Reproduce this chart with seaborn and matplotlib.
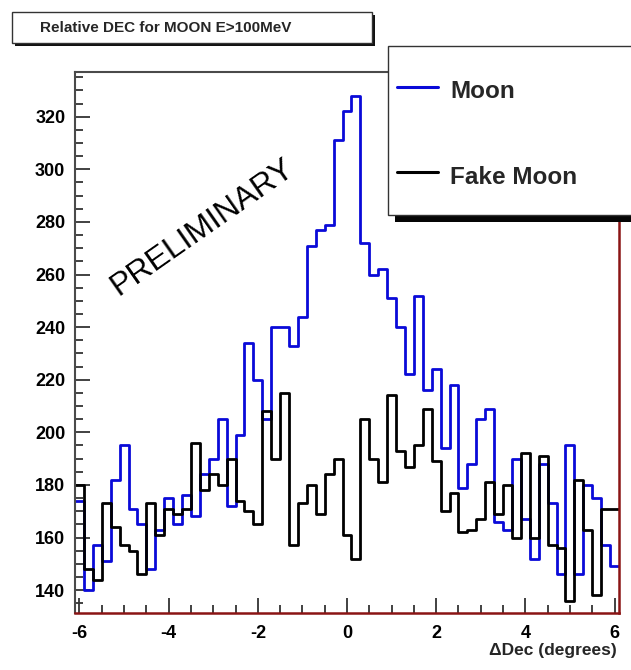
import matplotlib
matplotlib.use("Agg")

import matplotlib.pyplot as plt
from matplotlib.patches import Rectangle
from matplotlib.lines import Line2D
from matplotlib.ticker import MultipleLocator
import pandas as pd
import seaborn as sns

# 61 bins of 0.2 deg, centred on -6.0 ... 6.0
bin_edges = [round(-6.1 + 0.2 * i, 2) for i in range(62)]
bin_centers = [round(-6.0 + 0.2 * i, 2) for i in range(61)]

moon = [174, 140, 157, 151, 182, 195, 171, 165, 148, 163,
        175, 165, 176, 168, 184, 190, 205, 172, 199, 234,
        220, 205, 240, 240, 233, 244, 271, 277, 279, 311,
        322, 328, 272, 260, 262, 251, 240, 222, 252, 216,
        224, 194, 218, 179, 188, 205, 209, 166, 163, 190,
        167, 152, 188, 173, 146, 195, 146, 180, 175, 157, 149]

fake_moon = [180, 148, 144, 173, 164, 157, 155, 146, 173, 161,
             171, 169, 171, 196, 178, 184, 180, 190, 174, 170,
             165, 208, 190, 215, 157, 173, 180, 169, 184, 190,
             161, 152, 205, 190, 181, 214, 193, 187, 195, 209,
             189, 170, 177, 162, 163, 167, 181, 169, 180, 160,
             192, 160, 191, 157, 156, 136, 182, 163, 138, 171, 171]

series_names = ["Moon", "Fake Moon"]
series_colors = {"Moon": "#0a0ad8", "Fake Moon": "#000000"}
y_ticks = [140, 160, 180, 200, 220, 240, 260, 280, 300, 320]
x_ticks = [-6, -4, -2, 0, 2, 4, 6]

df = pd.DataFrame({
    "dec": bin_centers + bin_centers,
    "counts": moon + fake_moon,
    "sample": ["Moon"] * len(moon) + ["Fake Moon"] * len(fake_moon),
})

sns.set_theme(style="white")
plt.rcParams["font.family"] = ["Liberation Sans", "DejaVu Sans"]
plt.rcParams["font.weight"] = "bold"
plt.rcParams["axes.unicode_minus"] = False

W, H = 631, 670
fig = plt.figure(figsize=(W / 100, H / 100), dpi=100)
fig.patch.set_facecolor("white")


def fx(x):
    return x / W


def fy(y):
    return 1 - y / H


ax = fig.add_axes([fx(75), fy(613), fx(619) - fx(75), fy(72) - fy(613)])

sns.histplot(data=df, x="dec", weights="counts", hue="sample",
             hue_order=["Fake Moon", "Moon"], bins=bin_edges,
             element="step", fill=False, palette=series_colors,
             linewidth=2.0, legend=False, ax=ax)

ax.set_xlim(-6.1, 6.1)
ax.set_ylim(131.3, 337)
ax.set_xticks(x_ticks)
ax.set_yticks(y_ticks)
ax.xaxis.set_minor_locator(MultipleLocator(0.5))
ax.yaxis.set_minor_locator(MultipleLocator(5))
ax.tick_params(which="both", bottom=True, left=True, top=False, right=False)
ax.tick_params(which="major", direction="in", length=11, width=1.3,
               color="#333333", labelsize=13, labelcolor="black")
ax.tick_params(axis="y", which="major", pad=7)
ax.tick_params(axis="x", which="major", pad=9)
ax.tick_params(which="minor", direction="in", length=5.5, width=1.3,
               color="#333333")
ax.set_xlabel("")
ax.set_ylabel("")
for lbl in ax.get_xticklabels() + ax.get_yticklabels():
    lbl.set_fontweight("bold")

for side in ["left", "top"]:
    ax.spines[side].set_color("#4a4a4a")
    ax.spines[side].set_linewidth(1.5)
for side in ["right", "bottom"]:
    ax.spines[side].set_color("#8a1414")
    ax.spines[side].set_linewidth(1.8)

ax.text(-3.25, 278, "PRELIMINARY", rotation=35, rotation_mode="anchor",
        ha="center", va="center", fontsize=23, fontweight="normal",
        color="black")

# x axis title
fig.text(fx(617), fy(651), "\u0394Dec (degrees)", ha="right", va="center",
         fontsize=12.5, fontweight="bold")

# title box with shadow
fig.patches.append(Rectangle((fx(15), fy(46)), fx(360), fy(0) - fy(31),
                             transform=fig.transFigure, facecolor="#111111",
                             edgecolor="none", zorder=1))
fig.patches.append(Rectangle((fx(12), fy(43)), fx(360), fy(0) - fy(31),
                             transform=fig.transFigure, facecolor="white",
                             edgecolor="#333333", linewidth=1.0, zorder=2))
fig.text(fx(166), fy(27.5), "Relative DEC for MOON E>100MeV", ha="center",
         va="center", fontsize=11, fontweight="bold", zorder=3)

# legend box with shadow
fig.patches.append(Rectangle((fx(395), fy(222)), fx(260), fy(0) - fy(175),
                             transform=fig.transFigure, facecolor="#050505",
                             edgecolor="none", zorder=4))
fig.patches.append(Rectangle((fx(388), fy(215)), fx(260), fy(0) - fy(169),
                             transform=fig.transFigure, facecolor="white",
                             edgecolor="#333333", linewidth=1.0, zorder=5))
for name, ly in zip(series_names, [87, 172]):
    fig.lines.append(Line2D([fx(397), fx(438)], [fy(ly), fy(ly)],
                            transform=fig.transFigure,
                            color=series_colors[name], linewidth=2.2,
                            zorder=6))
    fig.text(fx(450), fy(ly + 5), name, ha="left", va="center",
             fontsize=17.5, fontweight="bold", zorder=7)

fig.savefig("out.png", dpi=100)
